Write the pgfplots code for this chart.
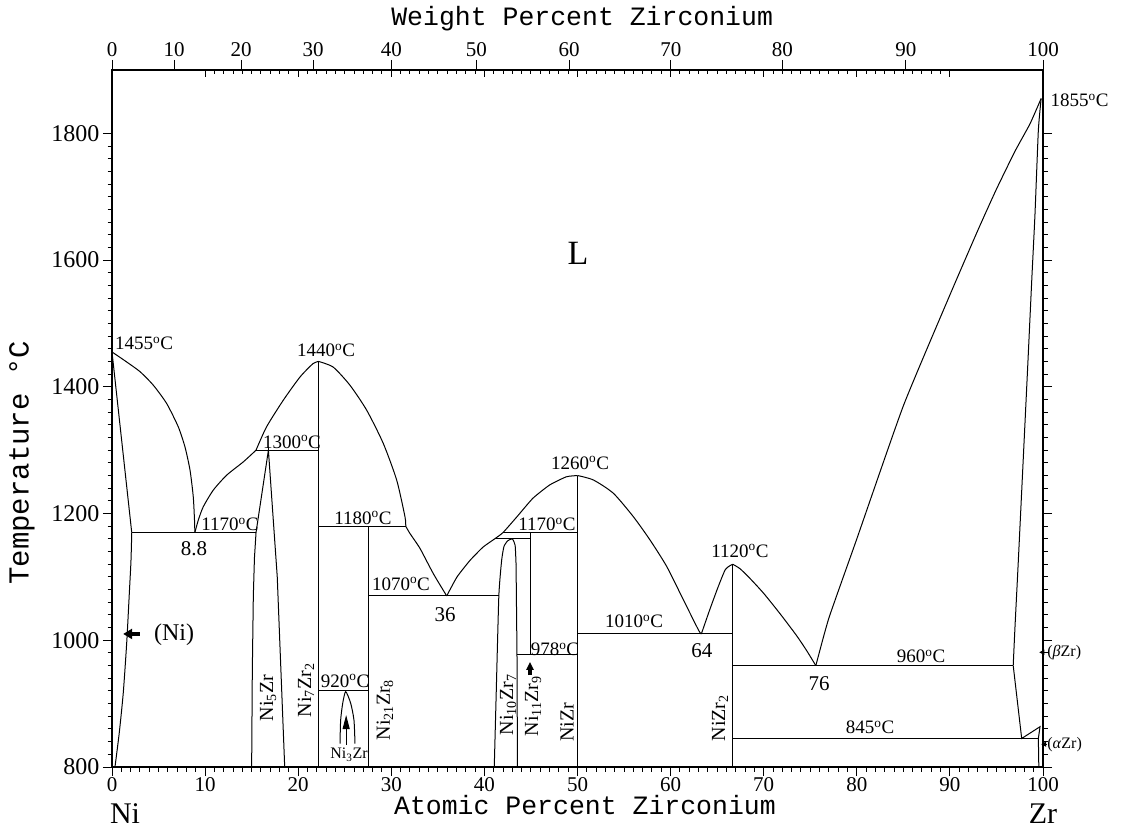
\documentclass[border=0pt]{standalone}
\usepackage{fontspec}
\setmainfont{Liberation Serif}
\newfontfamily\titlefont{Liberation Mono}
\usepackage{pgfplots}
\pgfplotsset{compat=1.18}
\usetikzlibrary{arrows.meta}

\newcommand\fs[1]{\fontsize{#1}{#1}\selectfont}
\newcommand\dC{\textsuperscript{o}C}

\begin{document}
\begin{tikzpicture}[x=1pt,y=1pt]
\path[use as bounding box] (0,0) rectangle (1121,830);

% at.% Zr on the bottom, temperature on the left
\begin{axis}[
  at={(112pt,63pt)}, anchor=south west,
  scale only axis, width=931pt, height=697pt,
  xmin=0, xmax=100, ymin=800, ymax=1900,
  xtick={0,10,...,100}, ytick={800,1000,...,1800},
  minor x tick num=9, minor y tick num=9,
  xtick pos=left, ytick pos=both, yticklabel pos=left,
  tick align=outside,
  major tick length=9pt, minor tick length=4.5pt,
  tick style={black, line width=1pt},
  axis line style={line width=1.2pt},
  tick label style={font=\fs{24}},
  xticklabel style={font=\fs{21}, inner sep=1pt},
  /pgf/number format/assume math mode=true,
  /pgf/number format/1000 sep={},
  clip=false,
  cycle list={{black, solid, line width=1pt}},
  every axis plot/.append style={line width=1pt, black, solid, no markers},
]
% Ni-rich liquidus and (Ni) boundaries
\addplot[smooth, tension=0.4] coordinates {(0,1455) (1.4,1441) (3.0,1424) (4.44,1402.5) (5.87,1373.7) (7.12,1336.8) (7.84,1305) (8.38,1268.5) (8.73,1226.3) (8.86,1190) (8.9,1170)};
\addplot coordinates {(0,1455) (2.12,1170)};
\addplot[smooth, tension=0.4] coordinates {(2.12,1170) (2.04,1126) (1.86,1074) (1.58,996) (1.21,917) (0.78,854) (0.32,800)};
% liquidus 8.8 -> 1440
\addplot[smooth, tension=0.4] coordinates {(8.9,1170) (9.27,1189.6) (9.8,1210.6) (10.88,1237) (12.32,1260.6) (14.1,1281.5) (15.47,1300)};
\addplot[smooth, tension=0.4] coordinates {(15.47,1300) (16.6,1336.8) (18.4,1378.9) (20.2,1415.6) (21.6,1436.7) (22.2,1440)};
% liquidus 1440 -> 36
\addplot[smooth, tension=0.4] coordinates {(22.2,1440) (23.77,1431) (25.56,1402.5) (27.36,1363) (29.14,1310.6) (30.58,1252.7) (31.47,1194.8) (31.55,1180)};
\addplot[smooth, tension=0.4] coordinates {(31.55,1180) (32.0,1168.6) (33.08,1145) (34.5,1105.5) (35.95,1070)};
% liquidus 36 -> 1260
\addplot[smooth, tension=0.3] coordinates {(35.95,1070) (37.06,1100) (38.45,1126) (39.85,1147) (41.1,1160) (42.0,1170) (43.5,1195) (45.2,1224) (47.0,1245) (48.8,1258) (50,1260)};
% liquidus 1260 -> 64 -> 1120 -> 76
\addplot[smooth, tension=0.4] coordinates {(50,1260) (51.7,1253) (53.85,1232) (56.0,1195) (57.8,1158) (59.6,1116) (61.4,1063) (63.0,1016) (63.3,1010)};
\addplot[smooth, tension=0.4] coordinates {(63.3,1010) (64.2,1048) (65.1,1084) (65.9,1112) (66.67,1120)};
\addplot[smooth, tension=0.4] coordinates {(66.67,1120) (67.45,1113) (68.5,1098) (70.0,1074) (71.75,1042) (73.5,1008) (74.6,984) (75.6,960)};
% liquidus 76 -> 1855
\addplot[smooth, tension=0.3] coordinates {(75.6,960) (77,1035) (80,1160) (85,1370) (90,1545) (93,1647) (95,1712) (97,1772) (98.6,1815) (99.8,1855)};
% (beta Zr) and (alpha Zr)
\addplot[smooth, tension=0.3] coordinates {(99.8,1855) (99.5,1805) (99.14,1673) (98.79,1568) (98.32,1421) (97.35,1126) (96.99,1021) (96.8,960)};
\addplot coordinates {(96.8,960) (97.71,845) (99.68,863.6) (99.5,845) (99.55,800)};
% Ni5Zr
\addplot coordinates {(15.0,800) (15.07,950) (15.18,1070) (15.3,1130) (15.47,1170) (16.8,1300) (17.75,1100) (18.15,950) (18.55,800)};
% Ni3Zr
\addplot[smooth, tension=0.4] coordinates {(24.49,837) (24.56,874) (24.78,900.5) (25.1,919) (25.64,900.5) (25.99,874) (26.1,837)};
% Ni10Zr7
\addplot[smooth, tension=0.3] coordinates {(41.06,800) (41.25,906) (41.55,1070) (41.85,1126) (42.1,1148) (42.5,1157) (43.0,1160) (43.3,1150) (43.4,1120)};
\addplot coordinates {(43.4,1120) (43.5,978) (43.55,800)};
% compounds
\addplot coordinates {(22.2,800) (22.2,1440)};
\addplot coordinates {(27.6,800) (27.6,1180)};
\addplot coordinates {(44.9,978) (44.9,1170)};
\addplot coordinates {(50,800) (50,1260)};
\addplot coordinates {(66.67,800) (66.67,1120)};
% invariant lines
\addplot coordinates {(2.12,1170) (15.47,1170)};
\addplot coordinates {(15.47,1300) (22.2,1300)};
\addplot coordinates {(22.2,1180) (31.55,1180)};
\addplot coordinates {(22.2,920) (27.6,920)};
\addplot coordinates {(27.6,1070) (41.55,1070)};
\addplot coordinates {(41.1,1160) (44.9,1160)};
\addplot coordinates {(42.0,1170) (50,1170)};
\addplot coordinates {(43.5,978) (50,978)};
\addplot coordinates {(50,1010) (66.67,1010)};
\addplot coordinates {(66.67,960) (96.8,960)};
\addplot coordinates {(66.67,845) (99.5,845)};

% temperatures and compositions
\begin{scope}[every node/.style={font=\fs{19}, inner sep=0pt}]
\node at (axis cs:3.44,1469) {1455\dC};
\node at (axis cs:22.99,1458) {1440\dC};
\node at (axis cs:19.33,1313) {1300\dC};
\node at (axis cs:12.67,1183) {1170\dC};
\node at (axis cs:26.96,1193) {1180\dC};
\node at (axis cs:31.04,1089) {1070\dC};
\node at (axis cs:46.72,1183) {1170\dC};
\node at (axis cs:50.27,1280) {1260\dC};
\node at (axis cs:56.07,1030) {1010\dC};
\node at (axis cs:47.58,986) {978\dC};
\node at (axis cs:67.45,1141) {1120\dC};
\node at (axis cs:86.9,975) {960\dC};
\node at (axis cs:81.42,863) {845\dC};
\node at (axis cs:25.03,936) {920\dC};
\node[anchor=west] at (axis cs:100.8,1852) {1855\dC};
\end{scope}
\begin{scope}[every node/.style={font=\fs{21}, inner sep=0pt}]
\node at (axis cs:8.81,1144) {8.8};
\node at (axis cs:35.77,1041) {36};
\node at (axis cs:63.37,984) {64};
\node at (axis cs:75.94,932) {76};
\end{scope}
\node[font=\fs{34}] at (axis cs:50.05,1611) {L};
\node[font=\fs{24}, inner sep=0pt] at (axis cs:6.66,1008) {(Ni)};
\node[font=\fs{16}, inner sep=0pt, anchor=west] at (axis cs:100.45,981) {(\textit{β}Zr)};
\node[font=\fs{16}, inner sep=0pt, anchor=west] at (axis cs:100.45,836) {(\textit{α}Zr)};
% phase names
\begin{scope}[every node/.style={font=\fs{20}, inner sep=0pt, rotate=90}]
\node at (axis cs:16.76,909) {Ni\textsubscript{5}Zr};
\node at (axis cs:20.84,921) {Ni\textsubscript{7}Zr\textsubscript{2}};
\node at (axis cs:29.32,890) {Ni\textsubscript{21}Zr\textsubscript{8}};
\node at (axis cs:42.54,898) {Ni\textsubscript{10}Zr\textsubscript{7}};
\node at (axis cs:45.22,896) {Ni\textsubscript{11}Zr\textsubscript{9}};
\node at (axis cs:48.87,871) {NiZr};
\node at (axis cs:65.31,877) {NiZr\textsubscript{2}};
\end{scope}
\node[font=\fs{16}, inner sep=0pt] at (axis cs:25.46,819) {Ni\textsubscript{3}Zr};
% pointers
\draw[line width=4pt, -{Triangle[length=9pt,width=10pt]}] (axis cs:3.0,1010) -- (axis cs:1.2,1010);
\draw[line width=1pt, -{Triangle[length=14pt,width=7pt]}] (axis cs:25.15,835) -- (axis cs:25.15,882);
\draw[line width=4pt, -{Triangle[length=8pt,width=7pt]}] (axis cs:44.9,945) -- (axis cs:44.9,966);
\draw[line width=0.8pt, -{Triangle[length=5pt,width=5pt]}] (axis cs:100.45,981) -- (axis cs:99.6,981);
\draw[line width=0.8pt, -{Triangle[length=5pt,width=5pt]}] (axis cs:100.45,836) -- (axis cs:99.8,836);
% axis titles and end members
\node[font=\titlefont\fs{26.5}] at (axis cs:50.5,1981) {Weight Percent Zirconium};
\node[font=\titlefont\fs{26.5}, inner sep=0pt] at (axis cs:50.8,740) {Atomic Percent Zirconium};
\node[font=\titlefont\fs{29}, rotate=90] at (axis cs:-9.67,1280) {Temperature °C};
\node[font=\fs{30}, inner sep=0pt] at (axis cs:1.4,727) {Ni};
\node[font=\fs{30}, inner sep=0pt] at (axis cs:100,727) {Zr};
\end{axis}

% at.% ticks repeated along the top edge
\begin{axis}[
  at={(112pt,63pt)}, anchor=south west,
  scale only axis, width=931pt, height=697pt,
  xmin=0, xmax=100, ymin=800, ymax=1900,
  axis x line*=top, axis y line=none,
  xtick={10,20,...,90}, xticklabels={},
  minor x tick num=9,
  tick align=inside,
  major tick length=7pt, minor tick length=4.5pt,
  tick style={black, line width=1pt},
  axis line style={line width=1.2pt},
]
\end{axis}

% wt.% Zr scale along the top
\begin{axis}[
  at={(112pt,63pt)}, anchor=south west,
  scale only axis, width=931pt, height=697pt,
  xmin=0, xmax=100, ymin=800, ymax=1900,
  axis x line*=top, axis y line=none,
  xtick={0,6.672,13.856,21.614,30.018,39.150,49.112,60.021,72.017,85.274,100},
  xticklabels={0,10,20,30,40,50,60,70,80,90,100},
  tick align=outside,
  major tick length=10pt,
  tick style={black, line width=1pt},
  axis line style={line width=1.2pt},
  tick label style={font=\fs{21}},
  /pgf/number format/assume math mode=true,
]
\end{axis}
\end{tikzpicture}
\end{document}
